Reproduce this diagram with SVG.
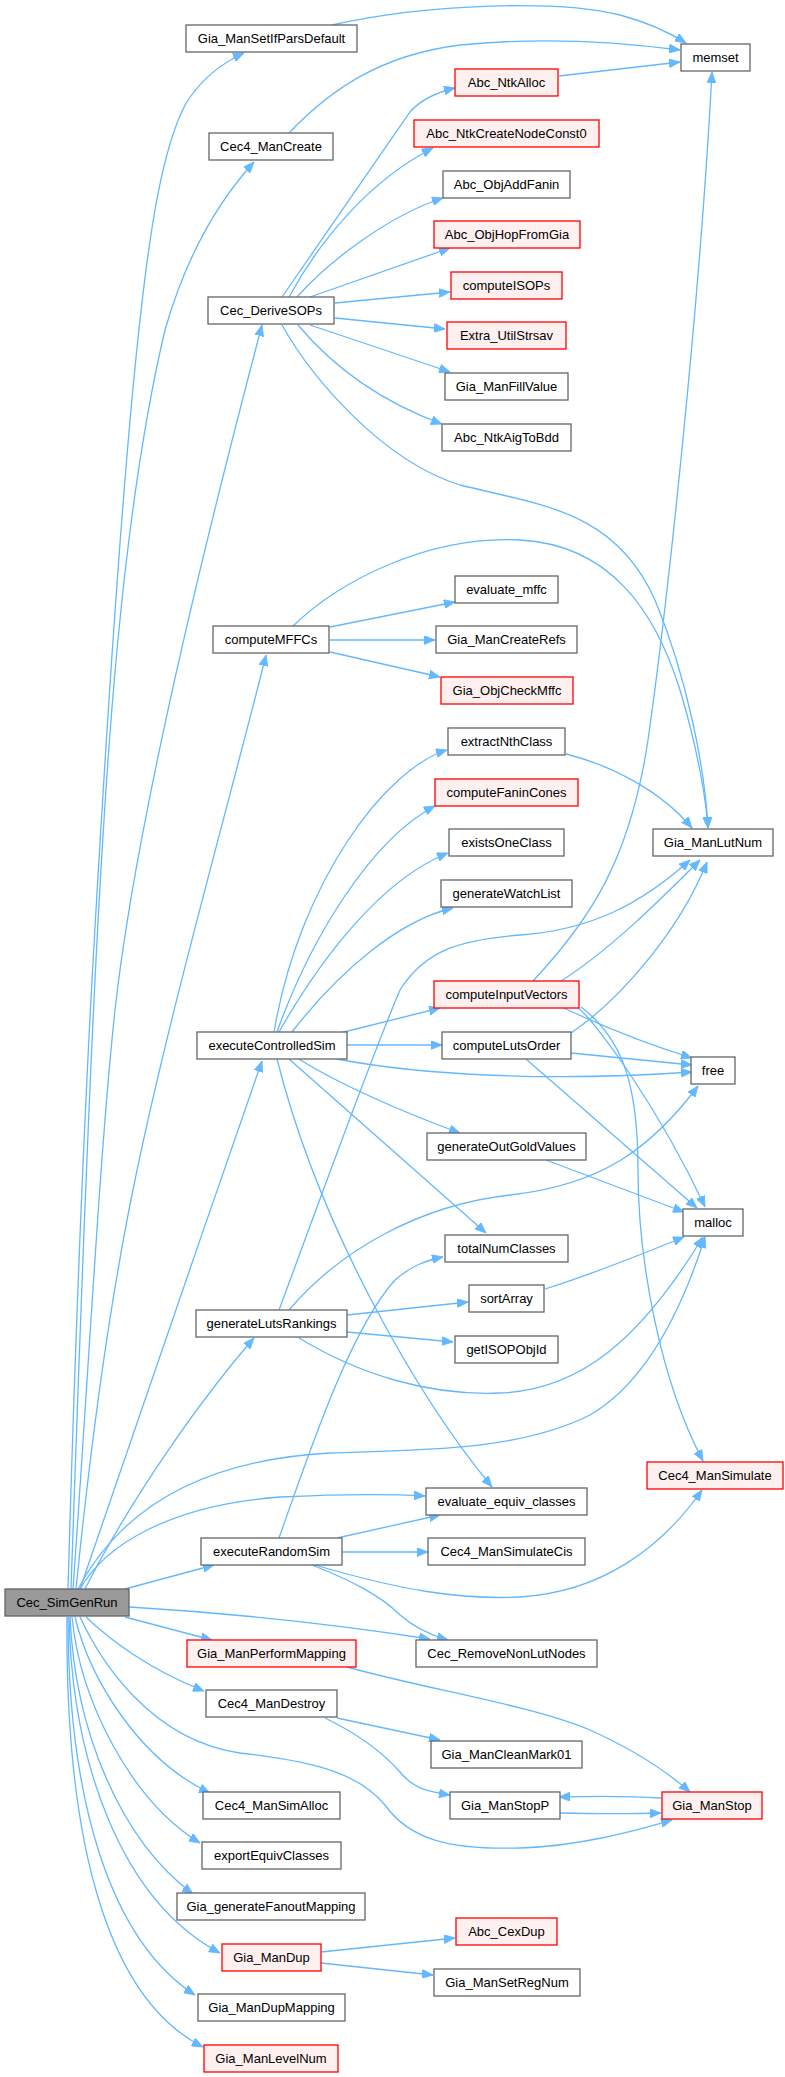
<svg xmlns="http://www.w3.org/2000/svg" width="785" height="2077" viewBox="0 0 785 2077">
<style>
.n rect{fill:#ffffff;stroke:#666666;stroke-width:1.3}
.r rect{fill:#fff0f0;stroke:#ff0000;stroke-width:1.3}
.g rect{fill:#999999;stroke:#666666;stroke-width:1.3}
text{font-family:"Liberation Sans",Arial,sans-serif;font-size:13px;fill:#000000;text-anchor:middle}
#edges path{fill:none;stroke:#63b8ff;stroke-width:1.3;marker-end:url(#ah)}
</style>
<defs>
<marker id="ah" markerUnits="userSpaceOnUse" markerWidth="12" markerHeight="9" refX="11" refY="4.5" orient="auto">
<path d="M0,0 L11,4.5 L0,9 z" fill="#63b8ff" stroke="#63b8ff" stroke-width="0.8"/>
</marker>
</defs>
<rect x="0" y="0" width="785" height="2077" fill="#ffffff"/>
<g id="edges">
<path d="M68,1589 C72,1450 80,1200 92,980 C105,750 122,480 140,320 C150,230 162,150 185,105 C200,80 220,64 244,53"/>
<path d="M71,1589 C76,1450 84,1200 95,980 C105,780 120,520 165,330 C185,260 215,205 254,162"/>
<path d="M73,1589 C90,1350 100,1150 115,1010 C135,830 200,560 262,325"/>
<path d="M76,1589 C90,1450 110,1300 135,1180 C170,1010 230,800 266,655"/>
<path d="M80,1589 C120,1470 200,1240 262,1061"/>
<path d="M85,1589 C130,1500 200,1400 254,1338"/>
<path d="M78,1589 C120,1510 200,1460 330,1453 C430,1450 520,1450 590,1415 C650,1380 685,1300 705,1237"/>
<path d="M80,1589 C105,1545 170,1505 280,1497 C340,1494 390,1494 425,1496"/>
<path d="M125,1589 L214,1565"/>
<path d="M129,1607 C230,1613 340,1625 430,1639"/>
<path d="M125,1617 L212,1640"/>
<path d="M86,1617 C110,1640 150,1670 204,1691"/>
<path d="M80,1617 C100,1660 150,1740 240,1753 C320,1762 360,1775 385,1805 C410,1840 450,1850 520,1848 C580,1846 630,1832 672,1820"/>
<path d="M75,1617 C90,1680 140,1760 210,1793"/>
<path d="M72,1617 C80,1700 130,1800 200,1843"/>
<path d="M70,1617 C75,1730 120,1840 193,1894"/>
<path d="M69,1617 C72,1760 120,1900 220,1953"/>
<path d="M68,1617 C68,1800 110,1940 195,1995"/>
<path d="M67,1617 C65,1850 110,2000 203,2047"/>
<path d="M332,25 C430,3 560,0 620,15 C650,23 670,33 686,43"/>
<path d="M289,133 C330,90 380,55 460,45 C540,37 620,42 680,50"/>
<path d="M559,76 L680,62"/>
<path d="M282,297 L410,112 Q425,95 455,88"/>
<path d="M289,297 C320,240 370,180 433,148"/>
<path d="M297,297 C330,260 390,215 443,198"/>
<path d="M310,297 L450,248"/>
<path d="M335,303 L450,292"/>
<path d="M335,318 L445,329"/>
<path d="M310,325 L450,372"/>
<path d="M298,325 C340,375 390,405 442,424"/>
<path d="M282,325 C310,375 380,460 460,485 C540,505 615,510 655,600 C688,680 705,770 708,828"/>
<path d="M330,627 L455,602"/>
<path d="M330,640 L435,640"/>
<path d="M330,652 L440,677"/>
<path d="M292,627 C340,580 430,535 520,540 C610,545 655,610 680,690 C698,750 706,800 708,828"/>
<path d="M274,1032 C300,880 387,768 447,750"/>
<path d="M277,1032 C310,940 370,840 435,806"/>
<path d="M279,1032 C320,960 380,880 448,853"/>
<path d="M292,1032 C340,970 400,920 453,908"/>
<path d="M340,1033 L440,1008"/>
<path d="M347,1045 L442,1045"/>
<path d="M337,1059 C420,1075 550,1082 692,1072"/>
<path d="M299,1059 C340,1085 410,1115 460,1133"/>
<path d="M289,1059 L486,1233"/>
<path d="M277,1059 C320,1230 420,1400 492,1487"/>
<path d="M566,754 C610,765 660,790 692,828"/>
<path d="M533,981 C590,920 630,860 648,740 C668,600 700,300 712,72"/>
<path d="M561,981 C610,950 660,900 700,860"/>
<path d="M564,1008 C600,1025 650,1045 692,1058"/>
<path d="M577,1007 C595,1020 660,1110 705,1207"/>
<path d="M581,1007 C625,1040 638,1090 638,1170 C638,1260 660,1380 703,1461"/>
<path d="M571,1033 C620,1000 680,930 707,862"/>
<path d="M571,1053 L692,1065"/>
<path d="M526,1059 L697,1208"/>
<path d="M546,1160 L684,1212"/>
<path d="M279,1310 C320,1200 370,1060 400,990 C425,950 460,940 520,935 C590,930 640,905 690,860"/>
<path d="M289,1310 C340,1250 420,1205 510,1195 C600,1185 650,1150 698,1086"/>
<path d="M347,1315 L468,1302"/>
<path d="M347,1332 L453,1342"/>
<path d="M299,1338 C360,1375 430,1396 500,1393 C580,1390 640,1340 703,1237"/>
<path d="M545,1289 C590,1275 640,1255 684,1237"/>
<path d="M279,1538 C310,1450 350,1330 395,1280 C412,1265 428,1260 443,1257"/>
<path d="M337,1538 L440,1515"/>
<path d="M342,1552 L428,1552"/>
<path d="M315,1565 C400,1590 460,1600 520,1597 C600,1592 660,1550 702,1490"/>
<path d="M312,1565 C350,1580 380,1595 400,1615 C415,1628 430,1635 448,1640"/>
<path d="M347,1667 C430,1690 530,1705 590,1730 C630,1748 665,1770 690,1792"/>
<path d="M337,1718 L440,1740"/>
<path d="M325,1718 C360,1735 385,1755 400,1772 C415,1790 430,1792 450,1795"/>
<path d="M559,1813 C600,1814 630,1814 661,1813"/>
<path d="M661,1798 C630,1796 600,1796 559,1797"/>
<path d="M321,1952 L455,1938"/>
<path d="M321,1963 L433,1975"/>
</g>
<g id="n1" class="n"><rect x="186" y="25" width="171" height="27"/><text x="271.5" y="43">Gia_ManSetIfParsDefault</text></g>
<g id="n2" class="n"><rect x="681" y="44" width="69" height="27"/><text x="715.5" y="62">memset</text></g>
<g id="n3" class="r"><rect x="455" y="69" width="103" height="27"/><text x="506.5" y="87">Abc_NtkAlloc</text></g>
<g id="n4" class="r"><rect x="414" y="120" width="185" height="27"/><text x="506.5" y="138">Abc_NtkCreateNodeConst0</text></g>
<g id="n5" class="n"><rect x="209" y="133" width="124" height="27"/><text x="271" y="151">Cec4_ManCreate</text></g>
<g id="n6" class="n"><rect x="443" y="171" width="127" height="27"/><text x="506.5" y="189">Abc_ObjAddFanin</text></g>
<g id="n7" class="r"><rect x="434" y="221" width="146" height="27"/><text x="507" y="239">Abc_ObjHopFromGia</text></g>
<g id="n8" class="r"><rect x="451" y="272" width="111" height="27"/><text x="506.5" y="290">computeISOPs</text></g>
<g id="n9" class="n"><rect x="208" y="297" width="126" height="27"/><text x="271" y="315">Cec_DeriveSOPs</text></g>
<g id="n10" class="r"><rect x="447" y="322" width="119" height="27"/><text x="506.5" y="340">Extra_UtilStrsav</text></g>
<g id="n11" class="n"><rect x="445" y="373" width="123" height="27"/><text x="506.5" y="391">Gia_ManFillValue</text></g>
<g id="n12" class="n"><rect x="442" y="424" width="129" height="27"/><text x="506.5" y="442">Abc_NtkAigToBdd</text></g>
<g id="n13" class="n"><rect x="455" y="576" width="103" height="27"/><text x="506.5" y="594">evaluate_mffc</text></g>
<g id="n14" class="n"><rect x="213" y="626" width="116" height="27"/><text x="271" y="644">computeMFFCs</text></g>
<g id="n15" class="n"><rect x="436" y="626" width="141" height="27"/><text x="506.5" y="644">Gia_ManCreateRefs</text></g>
<g id="n16" class="r"><rect x="441" y="677" width="132" height="27"/><text x="507" y="695">Gia_ObjCheckMffc</text></g>
<g id="n17" class="n"><rect x="448" y="728" width="117" height="27"/><text x="506.5" y="746">extractNthClass</text></g>
<g id="n18" class="r"><rect x="435" y="779" width="143" height="27"/><text x="506.5" y="797">computeFaninCones</text></g>
<g id="n19" class="n"><rect x="449" y="829" width="115" height="27"/><text x="506.5" y="847">existsOneClass</text></g>
<g id="n20" class="n"><rect x="653" y="829" width="120" height="27"/><text x="713" y="847">Gia_ManLutNum</text></g>
<g id="n21" class="n"><rect x="441" y="880" width="131" height="27"/><text x="506.5" y="898">generateWatchList</text></g>
<g id="n22" class="r"><rect x="434" y="981" width="145" height="27"/><text x="506.5" y="999">computeInputVectors</text></g>
<g id="n23" class="n"><rect x="197" y="1032" width="150" height="27"/><text x="272" y="1050">executeControlledSim</text></g>
<g id="n24" class="n"><rect x="442" y="1032" width="129" height="27"/><text x="506.5" y="1050">computeLutsOrder</text></g>
<g id="n25" class="n"><rect x="691" y="1057" width="44" height="27"/><text x="713" y="1075">free</text></g>
<g id="n26" class="n"><rect x="427" y="1133" width="159" height="27"/><text x="506.5" y="1151">generateOutGoldValues</text></g>
<g id="n27" class="n"><rect x="683" y="1209" width="60" height="27"/><text x="713" y="1227">malloc</text></g>
<g id="n28" class="n"><rect x="445" y="1235" width="123" height="27"/><text x="506.5" y="1253">totalNumClasses</text></g>
<g id="n29" class="n"><rect x="469" y="1285" width="75" height="27"/><text x="506.5" y="1303">sortArray</text></g>
<g id="n30" class="n"><rect x="196" y="1310" width="151" height="27"/><text x="271.5" y="1328">generateLutsRankings</text></g>
<g id="n31" class="n"><rect x="455" y="1336" width="103" height="27"/><text x="506.5" y="1354">getISOPObjId</text></g>
<g id="n32" class="r"><rect x="647" y="1462" width="136" height="27"/><text x="715" y="1480">Cec4_ManSimulate</text></g>
<g id="n33" class="n"><rect x="426" y="1488" width="161" height="27"/><text x="506.5" y="1506">evaluate_equiv_classes</text></g>
<g id="n34" class="n"><rect x="201" y="1538" width="141" height="27"/><text x="271.5" y="1556">executeRandomSim</text></g>
<g id="n35" class="n"><rect x="428" y="1538" width="157" height="27"/><text x="506.5" y="1556">Cec4_ManSimulateCis</text></g>
<g id="n36" class="g"><rect x="5" y="1589" width="124" height="27"/><text x="67" y="1607">Cec_SimGenRun</text></g>
<g id="n37" class="r"><rect x="187" y="1640" width="169" height="27"/><text x="271.5" y="1658">Gia_ManPerformMapping</text></g>
<g id="n38" class="n"><rect x="416" y="1640" width="181" height="27"/><text x="506.5" y="1658">Cec_RemoveNonLutNodes</text></g>
<g id="n39" class="n"><rect x="206" y="1690" width="131" height="27"/><text x="271.5" y="1708">Cec4_ManDestroy</text></g>
<g id="n40" class="n"><rect x="431" y="1741" width="151" height="27"/><text x="506.5" y="1759">Gia_ManCleanMark01</text></g>
<g id="n41" class="n"><rect x="203" y="1792" width="137" height="27"/><text x="271.5" y="1810">Cec4_ManSimAlloc</text></g>
<g id="n42" class="n"><rect x="450" y="1792" width="110" height="27"/><text x="505" y="1810">Gia_ManStopP</text></g>
<g id="n43" class="r"><rect x="662" y="1792" width="100" height="27"/><text x="712" y="1810">Gia_ManStop</text></g>
<g id="n44" class="n"><rect x="202" y="1842" width="139" height="27"/><text x="271.5" y="1860">exportEquivClasses</text></g>
<g id="n45" class="n"><rect x="177" y="1893" width="188" height="27"/><text x="271" y="1911">Gia_generateFanoutMapping</text></g>
<g id="n46" class="r"><rect x="456" y="1918" width="101" height="27"/><text x="506.5" y="1936">Abc_CexDup</text></g>
<g id="n47" class="r"><rect x="222" y="1944" width="99" height="27"/><text x="271.5" y="1962">Gia_ManDup</text></g>
<g id="n48" class="n"><rect x="434" y="1969" width="146" height="27"/><text x="507" y="1987">Gia_ManSetRegNum</text></g>
<g id="n49" class="n"><rect x="198" y="1994" width="147" height="27"/><text x="271.5" y="2012">Gia_ManDupMapping</text></g>
<g id="n50" class="r"><rect x="204" y="2045" width="134" height="27"/><text x="271" y="2063">Gia_ManLevelNum</text></g>
</svg>
